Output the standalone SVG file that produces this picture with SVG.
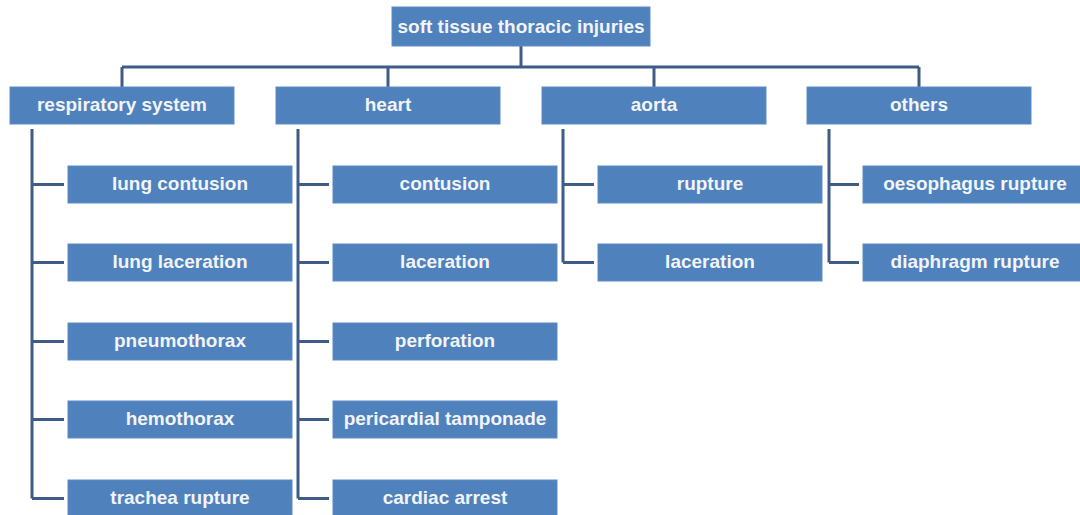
<svg xmlns="http://www.w3.org/2000/svg" width="1080" height="515" viewBox="0 0 1080 515">
<style>
.box{fill:#4f81bd;stroke:#5d8cc6;stroke-width:1}
.t{font-family:"Liberation Sans",Arial,sans-serif;font-weight:bold;font-size:19px;fill:#f2f4f7;text-anchor:middle}
.c{fill:none;stroke:#3e5c85;stroke-width:3}
</style>
<rect width="1080" height="515" fill="#ffffff"/>
<g id="connectors">
<path class="c" d="M521,46V67M122,67H919M122,67V87M388,67V87M654,67V87M919,67V87"/>
<path class="c" d="M32,129V498.5M32,184.5H64M32,262.5H64M32,341.5H64M32,419.5H64M32,498.5H64"/>
<path class="c" d="M298,129V498.5M298,184.5H329M298,262.5H329M298,341.5H329M298,419.5H329M298,498.5H329"/>
<path class="c" d="M563,129V262.5M563,184.5H594M563,262.5H594"/>
<path class="c" d="M829,129V262.5M829,184.5H859M829,262.5H859"/>
</g>
<g id="root"><rect class="box" x="392" y="7" width="258" height="39"/><text class="t" x="521" y="33">soft tissue thoracic injuries</text></g>
<g id="respiratory"><rect class="box" x="10" y="87" width="224" height="37"/><text class="t" x="122" y="111">respiratory system</text></g>
<g id="heart"><rect class="box" x="276" y="87" width="224" height="37"/><text class="t" x="388" y="111">heart</text></g>
<g id="aorta"><rect class="box" x="542" y="87" width="224" height="37"/><text class="t" x="654" y="111">aorta</text></g>
<g id="others"><rect class="box" x="807" y="87" width="224" height="37"/><text class="t" x="919" y="111">others</text></g>
<g id="lung-contusion"><rect class="box" x="68" y="166" width="224" height="37"/><text class="t" x="180" y="190">lung contusion</text></g>
<g id="lung-laceration"><rect class="box" x="68" y="244" width="224" height="37"/><text class="t" x="180" y="268">lung laceration</text></g>
<g id="pneumothorax"><rect class="box" x="68" y="323" width="224" height="37"/><text class="t" x="180" y="347">pneumothorax</text></g>
<g id="hemothorax"><rect class="box" x="68" y="401" width="224" height="37"/><text class="t" x="180" y="425">hemothorax</text></g>
<g id="trachea-rupture"><rect class="box" x="68" y="480" width="224" height="37"/><text class="t" x="180" y="504">trachea rupture</text></g>
<g id="heart-contusion"><rect class="box" x="333" y="166" width="224" height="37"/><text class="t" x="445" y="190">contusion</text></g>
<g id="heart-laceration"><rect class="box" x="333" y="244" width="224" height="37"/><text class="t" x="445" y="268">laceration</text></g>
<g id="perforation"><rect class="box" x="333" y="323" width="224" height="37"/><text class="t" x="445" y="347">perforation</text></g>
<g id="pericardial-tamponade"><rect class="box" x="333" y="401" width="224" height="37"/><text class="t" x="445" y="425">pericardial tamponade</text></g>
<g id="cardiac-arrest"><rect class="box" x="333" y="480" width="224" height="37"/><text class="t" x="445" y="504">cardiac arrest</text></g>
<g id="aorta-rupture"><rect class="box" x="598" y="166" width="224" height="37"/><text class="t" x="710" y="190">rupture</text></g>
<g id="aorta-laceration"><rect class="box" x="598" y="244" width="224" height="37"/><text class="t" x="710" y="268">laceration</text></g>
<g id="oesophagus-rupture"><rect class="box" x="863" y="166" width="224" height="37"/><text class="t" x="975" y="190">oesophagus rupture</text></g>
<g id="diaphragm-rupture"><rect class="box" x="863" y="244" width="224" height="37"/><text class="t" x="975" y="268">diaphragm rupture</text></g>
</svg>
